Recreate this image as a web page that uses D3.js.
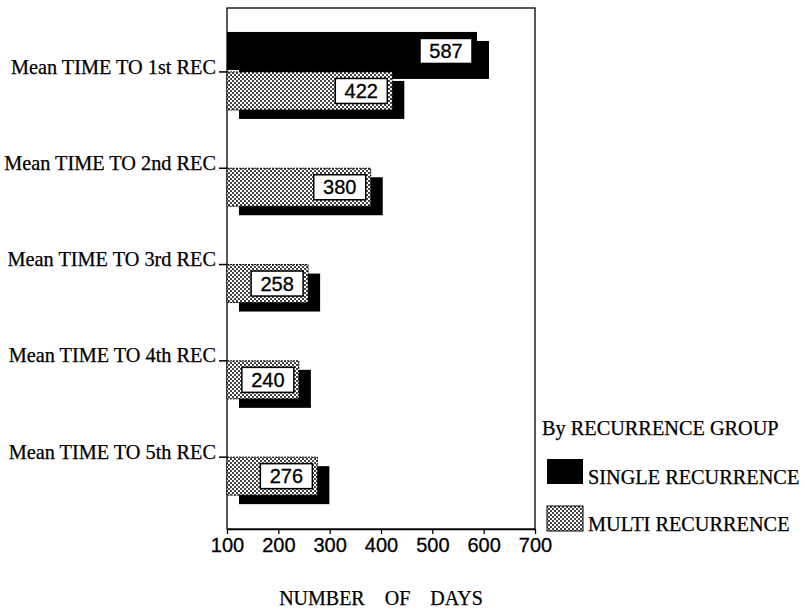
<!DOCTYPE html>
<html>
<head>
<meta charset="utf-8">
<script src="https://cdn.jsdelivr.net/npm/d3@7"></script>
<style>
  html, body { margin: 0; padding: 0; background: #fff; }
  svg { display: block; }
</style>
</head>
<body>
<svg id="chart" width="805" height="612"></svg>
<script>
// ---- data ----
const categories = [
  "Mean TIME TO 1st REC",
  "Mean TIME TO 2nd REC",
  "Mean TIME TO 3rd REC",
  "Mean TIME TO 4th REC",
  "Mean TIME TO 5th REC"
];
const singleRecurrence = [587, null, null, null, null];
const multiRecurrence = [422, 380, 258, 240, 276];
const xTickValues = [100, 200, 300, 400, 500, 600, 700];
const seriesNames = ["SINGLE RECURRENCE", "MULTI RECURRENCE"];
const legendTitle = "By RECURRENCE GROUP";
const xTitle = "NUMBER    OF    DAYS";

// ---- layout ----
const svg = d3.select("#chart");
const plotLeft = 227, plotRight = 535, plotTop = 8, plotBottom = 529;
const serif = "'Liberation Serif', 'Times New Roman', serif";
const sans = "'Liberation Sans', Arial, sans-serif";

const x = d3.scaleLinear().domain([100, 700]).range([plotLeft, plotRight]);
const y = d3.scaleBand().domain(categories).range([23.8, 505.3]).padding(0);
const sub = d3.scaleBand().domain(["single", "multi"]).range([-40, 38]).paddingInner(0.05);

const shadowDx = 12, shadowDy = 9;

// pattern
const defs = svg.append("defs");
const pat = defs.append("pattern").attr("id", "checker")
  .attr("patternUnits", "userSpaceOnUse").attr("width", 4).attr("height", 4);
pat.append("rect").attr("width", 4).attr("height", 4).attr("fill", "#fff");
pat.append("rect").attr("x", 0).attr("y", 0).attr("width", 2).attr("height", 2).attr("fill", "#444");
pat.append("rect").attr("x", 2).attr("y", 2).attr("width", 2).attr("height", 2).attr("fill", "#444");

// frame
svg.append("rect")
  .attr("x", plotLeft).attr("y", plotTop)
  .attr("width", plotRight - plotLeft).attr("height", plotBottom - plotTop)
  .attr("fill", "none").attr("stroke", "#000").attr("stroke-width", 1.3);

// build records
const records = [];
categories.forEach((c, i) => {
  if (singleRecurrence[i] != null) records.push({cat: c, key: "single", value: singleRecurrence[i]});
  if (multiRecurrence[i] != null) records.push({cat: c, key: "multi", value: multiRecurrence[i]});
});

const bandTop = d => y(d.cat) + y.bandwidth() / 2 + sub(d.key);

const marks = svg.append("g");
records.forEach(d => {
  const g = marks.append("g");
  const x0 = x(100), x1 = x(d.value);
  const top = bandTop(d), h = sub.bandwidth();
  // shadow
  g.append("rect")
    .attr("x", x0 + shadowDx).attr("y", top + shadowDy)
    .attr("width", x1 - x0).attr("height", h)
    .attr("fill", "#000");
  // bar
  g.append("rect")
    .attr("x", x0).attr("y", top)
    .attr("width", x1 - x0).attr("height", h)
    .attr("fill", d.key === "single" ? "#000" : "url(#checker)")
    .attr("stroke", d.key === "single" ? "none" : "#000")
    .attr("stroke-width", 1)
    .attr("stroke-dasharray", d.key === "single" ? null : "2 1");
});

// value labels
const boxW = 52, boxH = 25;
records.forEach(d => {
  const cx = x(d.value) - 5 - boxW / 2;
  const cy = bandTop(d) + sub.bandwidth() / 2;
  svg.append("rect")
    .attr("x", cx - boxW / 2).attr("y", cy - boxH / 2)
    .attr("width", boxW).attr("height", boxH)
    .attr("fill", "#fff").attr("stroke", "#000").attr("stroke-width", 1.5);
  svg.append("text")
    .attr("x", cx).attr("y", cy)
    .attr("dy", "0.36em")
    .attr("text-anchor", "middle")
    .attr("font-family", sans).attr("font-size", 20)
    .attr("fill", "#000").attr("stroke", "#000").attr("stroke-width", 0.3)
    .text(d.value);
});

// left axis (category labels)
const yAxis = svg.append("g")
  .attr("transform", `translate(${plotLeft},0)`)
  .call(d3.axisLeft(y).tickSize(8).tickPadding(3));
yAxis.select(".domain").remove();
yAxis.selectAll(".tick line").attr("stroke", "#000").attr("stroke-width", 1.5);
yAxis.selectAll(".tick text")
  .attr("font-family", serif).attr("font-size", 20.3).attr("fill", "#000")
  .attr("stroke", "#000").attr("stroke-width", 0.25)
  .attr("dy", "0.08em");

// bottom axis
const xAxis = svg.append("g")
  .attr("transform", `translate(0,${plotBottom})`)
  .call(d3.axisBottom(x).tickValues(xTickValues).tickSize(5).tickSizeOuter(0).tickPadding(4));
xAxis.select(".domain").attr("stroke", "#000").attr("stroke-width", 1.3);
xAxis.selectAll(".tick line").attr("stroke", "#000").attr("stroke-width", 1.3);
xAxis.selectAll(".tick text")
  .attr("font-family", sans).attr("font-size", 20).attr("fill", "#000")
  .attr("stroke", "#000").attr("stroke-width", 0.3);

// x title
svg.append("text")
  .attr("x", (plotLeft + plotRight) / 2).attr("y", 605)
  .attr("text-anchor", "middle")
  .attr("font-family", serif).attr("font-size", 20)
  .attr("xml:space", "preserve")
  .style("white-space", "pre")
  .attr("fill", "#000").attr("stroke", "#000").attr("stroke-width", 0.25)
  .text(xTitle);

// legend
const legend = svg.append("g");
legend.append("text")
  .attr("x", 542).attr("y", 435)
  .attr("font-family", serif).attr("font-size", 20.3).attr("fill", "#000")
  .attr("stroke", "#000").attr("stroke-width", 0.25)
  .text(legendTitle);
const legendFill = ["#000", "url(#checker)"];
seriesNames.forEach((name, i) => {
  const top = 459 + i * 47;
  legend.append("rect")
    .attr("x", 547).attr("y", top).attr("width", 36).attr("height", 25)
    .attr("fill", legendFill[i])
    .attr("stroke", i === 0 ? "none" : "#000").attr("stroke-width", 1);
  legend.append("text")
    .attr("x", 588).attr("y", top + 25)
    .attr("font-family", serif).attr("font-size", 20.3).attr("fill", "#000")
    .attr("stroke", "#000").attr("stroke-width", 0.25)
    .text(name);
});
</script>
</body>
</html>
